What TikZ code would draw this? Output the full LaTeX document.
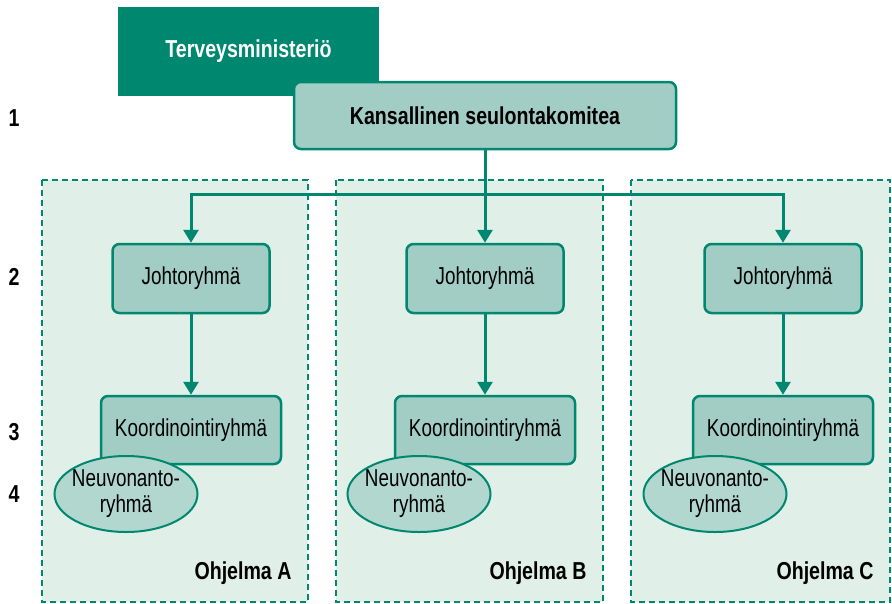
\documentclass[tikz,border=0pt]{standalone}
\usepackage{fontspec}
\setmainfont{Liberation Sans}[FakeStretch=0.77,BoldFeatures={FakeStretch=0.8}]
\usepackage{tikz}
\usetikzlibrary{arrows.meta,shapes.geometric}
\definecolor{tealdark}{RGB}{0,135,111}
\definecolor{tealbox}{RGB}{162,205,197}
\definecolor{tealpale}{RGB}{224,239,232}
\definecolor{tealoval}{RGB}{178,215,207}

\begin{document}
\begin{tikzpicture}[x=1pt,y=-1pt,
    txt/.style={font=\fontsize{24.5}{26}\selectfont},
    lvl/.style={font=\bfseries\fontsize{24.5}{26}\selectfont},
    box/.style={txt,draw=tealdark,line width=2.5pt,fill=tealbox,rounded corners=7pt},
    oval/.style={txt,ellipse,draw=tealdark,line width=2pt,fill=tealoval,align=center,inner xsep=-12pt,inner ysep=0pt,minimum width=143pt,minimum height=76pt},
    panel/.style={draw=tealdark,dash pattern=on 6pt off 4pt,line width=2pt,fill=tealpale},
    conn/.style={draw=tealdark,line width=3pt},
    arr/.style={conn,-{Triangle[length=13pt,width=15pt]}}]
    \useasboundingbox (0,0) rectangle (892,603);
    % dashed programme panels
    \foreach \p/\l/\r in {A/42/308,B/336/603,C/631/890} {
        \draw[panel] (\l,180) rectangle (\r,602);
        \node[lvl,anchor=base east] (ohj\p) at (\r-13,579) {Ohjelma \p};
    }
    % level numbers
    \foreach \n/\y in {1/118,2/277,3/432,4/494}
        \node[lvl] (num\n) at (14,\y) {\n};
    % top of the chart
    \node[lvl,text=white,fill=tealdark,minimum width=261pt,minimum height=89pt] (minist) at (248.5,51.5) {\raisebox{5pt}{Terveysministeriö}};
    \node[box,lvl,minimum width=382pt,minimum height=67pt] (komitea) at (485,115.5) {Kansallinen seulontakomitea};
    % groups in each programme
    \foreach \p/\x/\e in {A/191/126,B/485/419,C/783/715} {
        \node[box,minimum width=157pt,minimum height=69pt] (johto\p) at (\x,278.5) {Johtoryhmä};
        \node[box,minimum width=180pt,minimum height=68pt] (koord\p) at (\x,430) {Koordinointiryhmä};
        \node[oval] (neuvo\p) at (\e,494) {Neuvonanto-\\ryhmä};
        \draw[arr] (johto\p) -- (koord\p);
    }
    \coordinate (jako) at (485,194);
    \draw[conn] (komitea.south) -- (jako);
    \draw[arr] (jako) -| (johtoA.north);
    \draw[arr] (jako) -- (johtoB.north);
    \draw[arr] (jako) -| (johtoC.north);
\end{tikzpicture}
\end{document}
